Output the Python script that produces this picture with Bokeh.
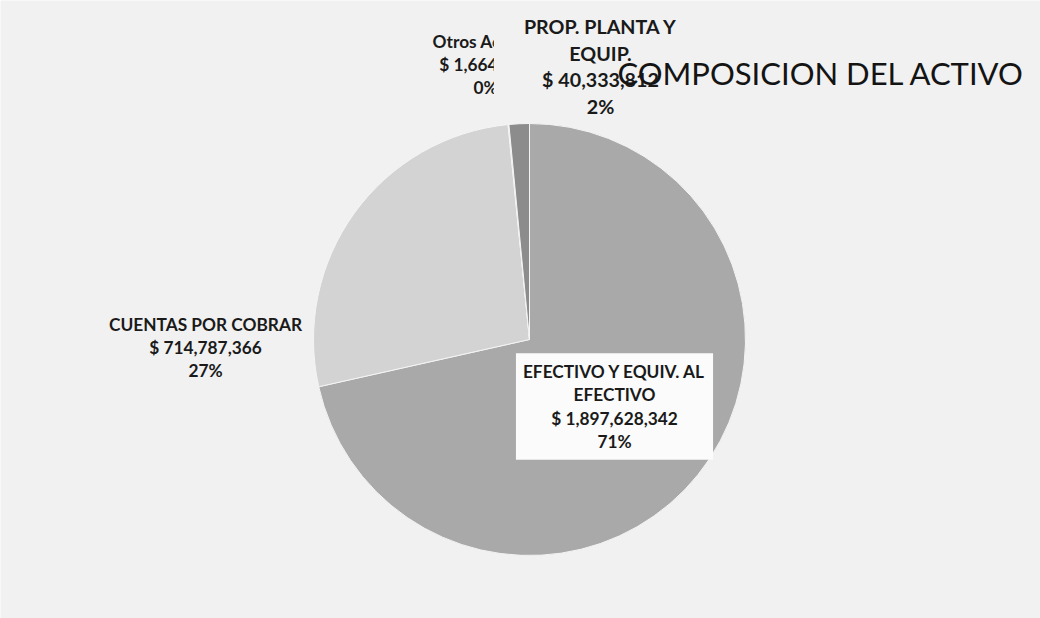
import math
from bokeh.plotting import figure
from bokeh.models import ColumnDataSource, Range1d, Label
from bokeh.core.properties import value
from bokeh.embed import file_html
from bokeh.resources import INLINE

# ---- data ----
categories = ["EFECTIVO Y EQUIV. AL\nEFECTIVO", "CUENTAS POR COBRAR", "Otros Activos", "PROP. PLANTA Y\nEQUIP."]
amounts = [1897628342, 714787366, 1664000, 40333812]
colors = ["#a9a9a9", "#d3d3d3", "#ececec", "#8c8c8c"]
title_text = "COMPOSICION DEL ACTIVO"

BG = "#f1f1f1"
FONT = "Lato"
W, H = 1040, 618

total = sum(amounts)
fracs = [a / total for a in amounts]
cum = [0.0]
for f in fracs:
    cum.append(cum[-1] + f)
start = [math.pi / 2 - 2 * math.pi * c for c in cum[:-1]]
end = [math.pi / 2 - 2 * math.pi * c for c in cum[1:]]
labels = [f"{c}\n$ {a:,}\n{round(f * 100):.0f}%" for c, a, f in zip(categories, amounts, fracs)]

src = ColumnDataSource(dict(cat=categories, amount=amounts, start=start, end=end, color=colors))

p = figure(width=W, height=H, x_range=Range1d(0, W), y_range=Range1d(0, H),
           output_backend="svg", toolbar_location=None, min_border=0,
           x_axis_type=None, y_axis_type=None,
           background_fill_color=BG, border_fill_color=BG, outline_line_color=None)
p.grid.visible = False

p.wedge(x=529, y=279, radius=216, start_angle="start", end_angle="end", direction="clock",
        fill_color="color", line_color="#f4f4f4", line_width=1, source=src)

common = dict(text_font=value(FONT), text_font_style="bold", text_align="center",
              text_baseline="middle", text_color="#1a1a1a")

# Otros (drawn first, partly hidden by the PROP label box)
p.text(x=[485], y=[554], text=[labels[2]], text_font_size="17.3px", text_line_height=1.1, **common)
# PROP label with box in page colour
p.text(x=[600], y=[553], text=[labels[3]], text_font_size="19.7px", text_line_height=1.15,
       background_fill_color=BG, padding=dict(left=30, right=30, top=2, bottom=0), **common)
# CUENTAS
p.text(x=[205], y=[271], text=[labels[1]], text_font_size="17.3px", text_line_height=1.1, **common)
# EFECTIVO with white box
p.text(x=[614], y=[212], text=[labels[0]], text_font_size="17.3px", text_line_height=1.1,
       background_fill_color="#fbfbfb", padding=dict(left=7, right=7, top=8, bottom=8), **common)

title = Label(x=617, y=546, text=title_text, text_font=FONT, text_font_size="31px",
              text_baseline="middle", text_align="left", text_color="#141414")
p.add_layout(title)

open("out.html", "w").write(file_html(p, INLINE))
